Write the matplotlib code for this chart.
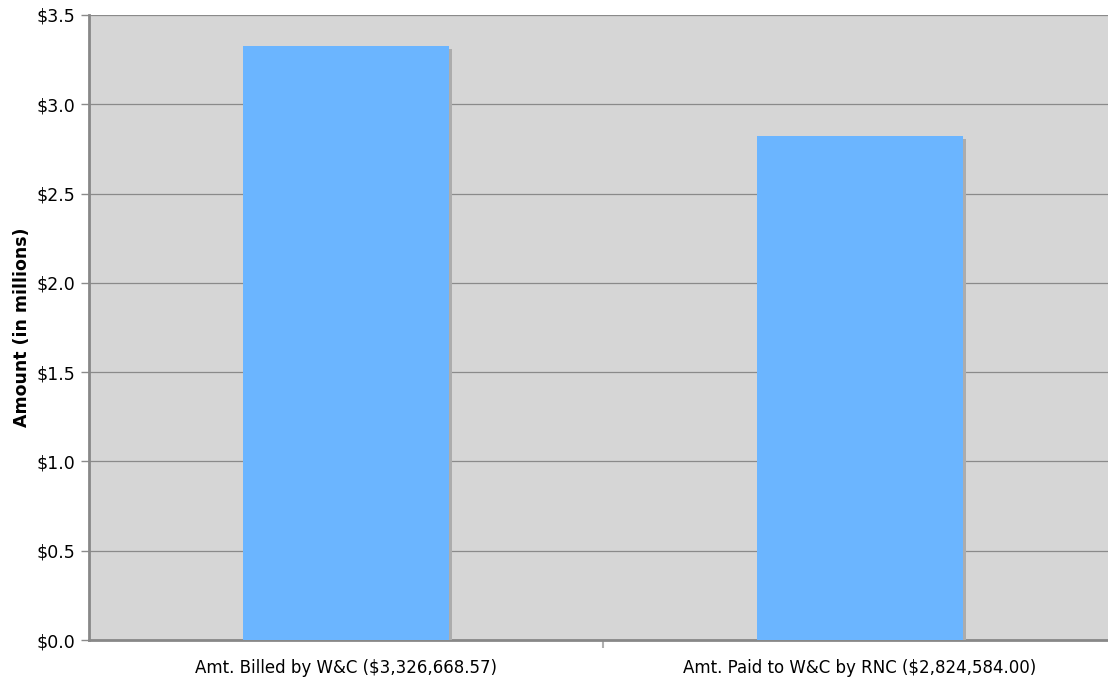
import matplotlib
matplotlib.use("Agg")
import matplotlib.pyplot as plt
import matplotlib.patheffects as pe
from matplotlib.ticker import MultipleLocator, FuncFormatter

# values (millions of dollars)
categories = ["Amt. Billed by W&C ($3,326,668.57)",
              "Amt. Paid to W&C by RNC ($2,824,584.00)"]
amounts = [3.32666857, 2.824584]

plt.rcParams["font.family"] = ["DejaVu Sans"]

fig = plt.figure(figsize=(11.08, 6.78), dpi=100)
ax = fig.add_axes([89 / 1108, 38 / 678, 1 - 89 / 1108, 625 / 678])
ax.set_facecolor("#d6d6d6")

xs = list(range(len(categories)))
bars = ax.bar(xs, amounts, width=0.4, color="#6bb5ff", zorder=3)
# soft drop shadow like the old spreadsheet look
for b in bars:
    b.set_path_effects([pe.SimplePatchShadow(offset=(2.5, -2.5),
                                             shadow_rgbFace="#acacac", alpha=1),
                        pe.Normal()])

ax.set_ylim(0, 3.5)
ax.set_xlim(-0.5, -0.5 + (1108 - 89) / 1028 * 2)
ax.yaxis.set_major_locator(MultipleLocator(0.5))
ax.yaxis.set_major_formatter(FuncFormatter(lambda v, _: f"${v:.1f}"))
ax.grid(axis="y", color="#8a8a8a", linewidth=0.9, zorder=1)
ax.set_axisbelow(True)

ax.set_xticks(xs)
ax.set_xticklabels(categories)
ax.set_xticks([0.5], minor=True)
ax.tick_params(axis="x", which="major", length=0, pad=14, labelsize=12)
ax.tick_params(axis="x", which="minor", length=6, color="#b0b0b0", width=1.5)
ax.tick_params(axis="y", length=6, color="#8a8a8a", width=1, pad=4, labelsize=12.5)

for side in ("top", "right"):
    ax.spines[side].set_visible(False)
ax.spines["left"].set_color("#888888")
ax.spines["left"].set_linewidth(2)
ax.spines["bottom"].set_color("#888888")
ax.spines["bottom"].set_linewidth(2)

ax.set_ylabel("Amount (in millions)", fontsize=12.5, fontweight="bold", labelpad=4)

fig.savefig("out.png", dpi=100)
